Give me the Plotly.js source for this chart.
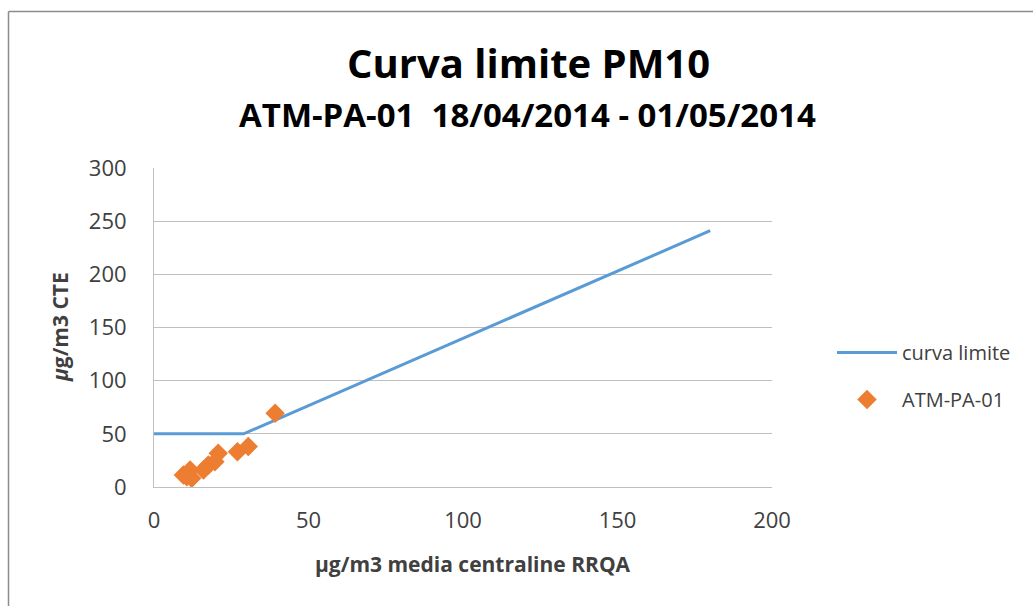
<!DOCTYPE html>
<html>
<head>
<meta charset="utf-8">
<script src="https://cdn.plot.ly/plotly-3.0.1.min.js"></script>
<style>html,body{margin:0;padding:0;background:#fff;}#chart{width:1033px;height:606px;}</style>
</head>
<body>
<div id="chart"></div>
<script>
var limitX = [0, 29, 180];
var limitY = [50, 50, 241];
var stationX = [9.5, 10.6, 11.7, 12.2, 16, 17.6, 19.7, 20.8, 27, 30.5, 39.2];
var stationY = [11.3, 9.7, 16, 8.2, 16, 20.7, 23.8, 31.7, 33.2, 38, 69.3];
var xTicks = [0, 50, 100, 150, 200];
var yTicks = [0, 50, 100, 150, 200, 250, 300];

var font = "Open Sans, Liberation Sans, sans-serif";
var traces = [
  {x: limitX, y: limitY, mode: 'lines', name: 'curva limite', type: 'scatter', legendgroup: 'a',
   line: {color: '#5b9bd5', width: 3}},
  {x: stationX, y: stationY, mode: 'markers', name: 'ATM-PA-01', type: 'scatter', legendgroup: 'b',
   marker: {symbol: 'diamond', size: 15, color: '#ed7d31'}}
];
var W = 618, H = 319;
function px(p) { return (p - 154) / W; }
function py(p) { return (487 - p) / H; }
var layout = {
  width: 1033, height: 606,
  margin: {l: 154, r: 261, t: 168, b: 119},
  paper_bgcolor: '#fff', plot_bgcolor: '#fff',
  font: {family: font, color: '#404040', size: 21},
  showlegend: true,
  legend: {x: px(832), y: py(376), xanchor: 'left', yanchor: 'middle', traceorder: 'grouped',
    font: {size: 20, color: '#404040'}, tracegroupgap: 18, itemwidth: 60},
  xaxis: {range: [0, 200], tickvals: xTicks, showgrid: false, zeroline: false, showline: true, linecolor: '#bfbfbf', linewidth: 1,
    ticks: '', ticklabelstandoff: 14, tickfont: {size: 22, color: '#404040'}, automargin: false},
  yaxis: {range: [0, 300], tickvals: yTicks, showgrid: true, gridcolor: '#bfbfbf', zeroline: false, showline: true, linecolor: '#bfbfbf', linewidth: 1,
    ticks: '', ticklabelstandoff: 22, tickfont: {size: 22, color: '#404040'}, automargin: false},
  annotations: [
    {text: '<b>Curva limite PM10</b>', xref: 'paper', yref: 'paper', x: px(528), y: py(62), xanchor: 'center', yanchor: 'middle',
     showarrow: false, font: {size: 40, color: '#000', family: font}},
    {text: '<b>ATM-PA-01  18/04/2014 - 01/05/2014</b>', xref: 'paper', yref: 'paper', x: px(527), y: py(115), xanchor: 'center', yanchor: 'middle',
     showarrow: false, font: {size: 33, color: '#000', family: font}},
    {text: '<b>µg/m3 media centraline RRQA</b>', xref: 'paper', yref: 'paper', x: px(473), y: py(564), xanchor: 'center', yanchor: 'middle',
     showarrow: false, font: {size: 21, color: '#404040', family: font}},
    {text: '<b><i>µ</i>g/m3 CTE</b>', xref: 'paper', yref: 'paper', x: px(60), y: py(327), xanchor: 'center', yanchor: 'middle',
     textangle: -90, showarrow: false, font: {size: 21, color: '#404040', family: font}}
  ],
  shapes: [
    {type: 'line', xref: 'paper', yref: 'paper', x0: px(8.5), x1: px(1040), y0: py(11.5), y1: py(11.5), line: {color: '#8c8c8c', width: 1.5}},
    {type: 'line', xref: 'paper', yref: 'paper', x0: px(8.5), x1: px(8.5), y0: py(11.5), y1: py(620), line: {color: '#8c8c8c', width: 1.5}}
  ]
};
Plotly.newPlot('chart', traces, layout, {displayModeBar: false, staticPlot: true});
</script>
</body>
</html>
